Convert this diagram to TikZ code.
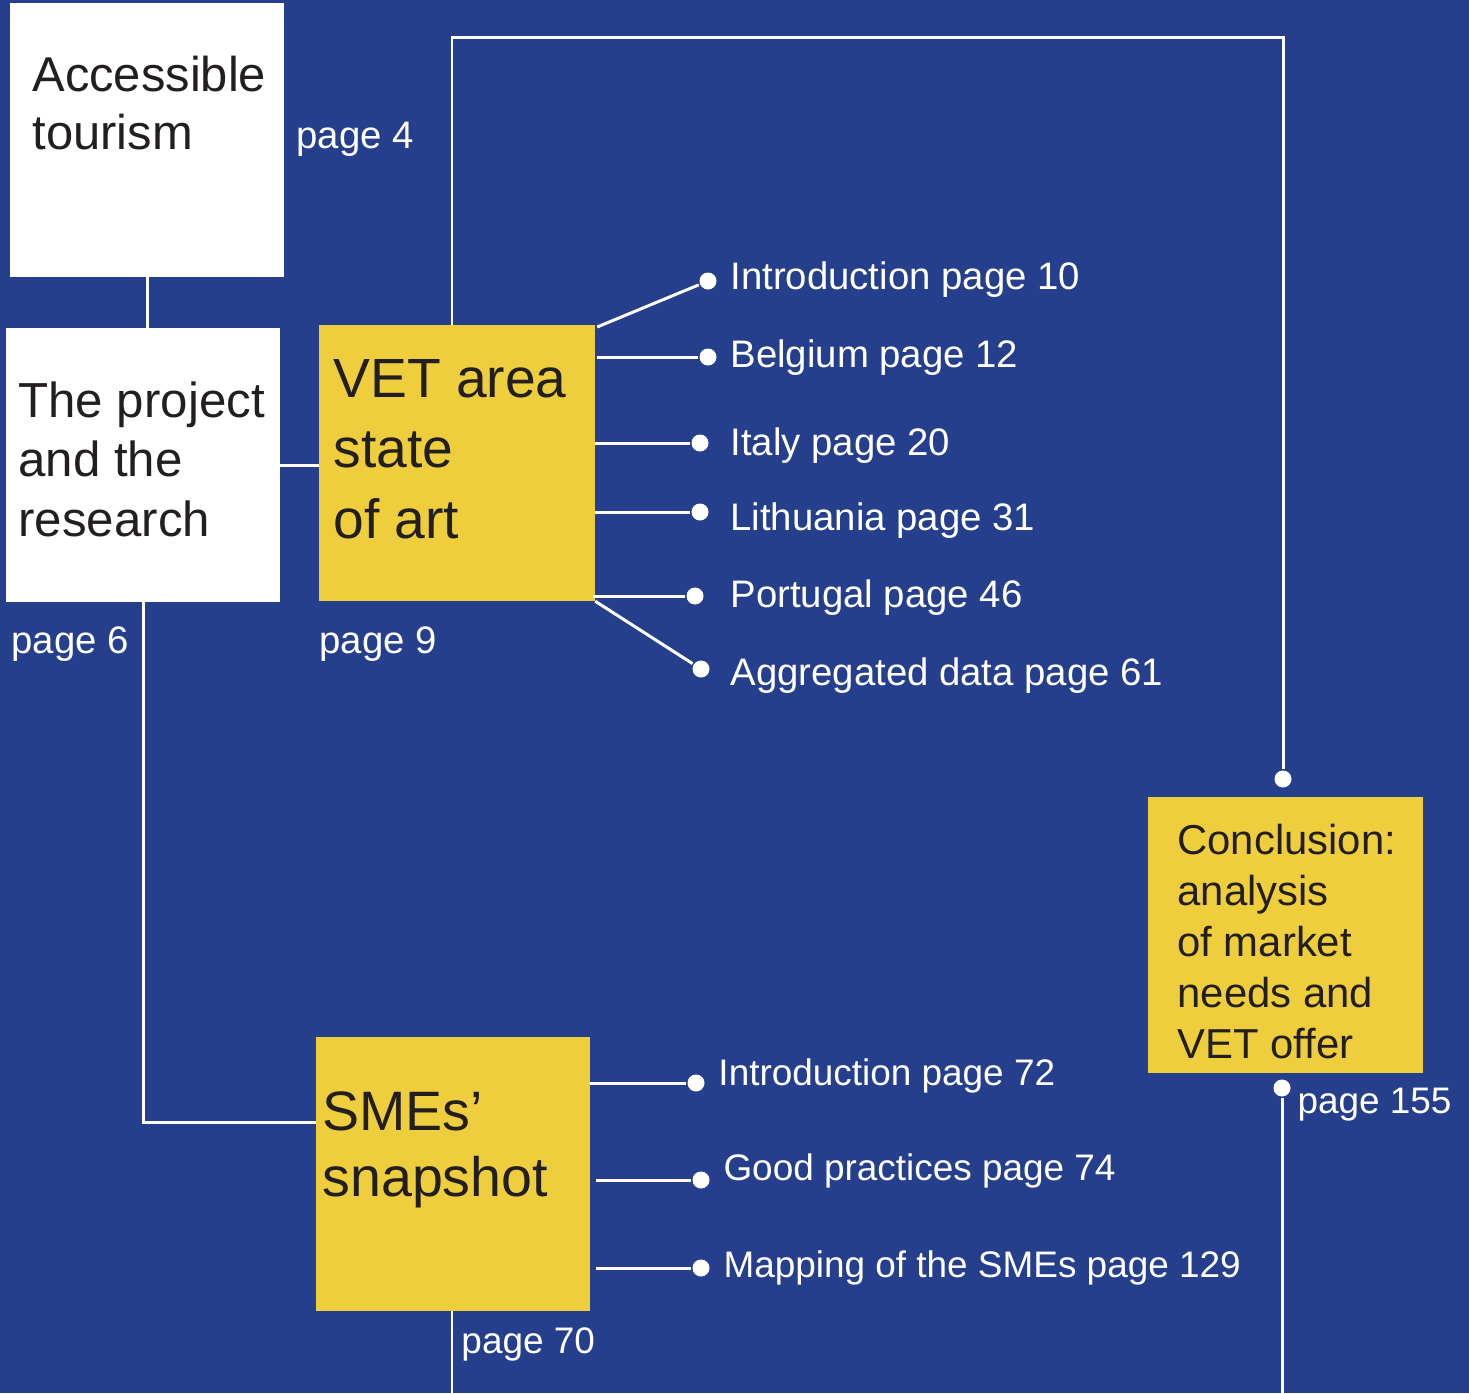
\documentclass[tikz,border=0pt]{standalone}
\usepackage{fontspec}
\setmainfont{Liberation Sans}

\definecolor{bgblue}{RGB}{38,63,141}
\definecolor{boxyellow}{RGB}{239,206,62}
\definecolor{inkdark}{RGB}{35,31,32}

\begin{document}
\begin{tikzpicture}[x=0.01cm,y=-0.01cm,line width=0.85pt]

      \fill[bgblue] (0,0) rectangle (1469,1393);
      \useasboundingbox (0,0) rectangle (1469,1393);

      % boxes
      \begin{scope}[every node/.style={anchor=north west,inner sep=0,outer sep=0,draw=none}]
        \node[fill=white,minimum width=2.74cm,minimum height=2.74cm] (tour) at (10,3) {};
        \node[fill=white,minimum width=2.74cm,minimum height=2.74cm] (proj) at (6,328) {};
        \node[fill=boxyellow,minimum width=2.76cm,minimum height=2.76cm] (vet) at (319,325) {};
        \node[fill=boxyellow,minimum width=2.74cm,minimum height=2.74cm] (sme) at (316,1037) {};
        \node[fill=boxyellow,minimum width=2.75cm,minimum height=2.76cm] (conc) at (1148,797) {};
      \end{scope}

      % box titles
      \begin{scope}[every node/.style={anchor=north west,inner sep=0,align=left,text=inkdark}]
        \node[font=\fontsize{13.9}{16.5}\selectfont] (tour-txt) at (31,55) {Accessible\\tourism};
        \node[font=\fontsize{14}{17}\selectfont] (proj-txt) at (17,380) {The project\\and the\\research};
        \node[font=\fontsize{15.7}{20}\selectfont] (vet-txt) at (332,358) {VET area\\state\\of art};
        \node[font=\fontsize{15.8}{18.8}\selectfont] (sme-txt) at (321,1090) {SMEs’\\snapshot};
        \node[font=\fontsize{11.9}{14.5}\selectfont] (conc-txt) at (1176,823) {Conclusion:\\analysis\\of market\\needs and\\VET offer};
      \end{scope}

      % page numbers and chapter entries
      \begin{scope}[every node/.style={anchor=base west,inner sep=0,text=white,font=\fontsize{10.9}{13}\selectfont}]
        \node (p4) at (295,148) {page 4};
        \node (p6) at (10,653) {page 6};
        \node (p9) at (318,653) {page 9};
        \node (e1) at (729,289) {Introduction page 10};
        \node (e2) at (729,367) {Belgium page 12};
        \node (e3) at (729,455) {Italy page 20};
        \node (e4) at (729,530) {Lithuania page 31};
        \node (e5) at (729,607) {Portugal page 46};
        \node (e6) at (729,685) {Aggregated data page 61};
      \end{scope}
      \begin{scope}[every node/.style={anchor=base west,inner sep=0,text=white,font=\fontsize{10.5}{12.5}\selectfont}]
        \node (p70) at (460,1353) {page 70};
        \node (p155) at (1296,1113) {page 155};
        \node (s1) at (717,1085) {Introduction page 72};
        \node (s2) at (722,1180) {Good practices page 74};
        \node (s3) at (722,1277) {Mapping of the SMEs page 129};
      \end{scope}

      % dots
      \begin{scope}[every node/.style={circle,fill=white,inner sep=0,minimum size=0.17cm}]
        \node (d1) at (708,281) {};
        \node (d2) at (708,357) {};
        \node (d3) at (700,443) {};
        \node (d4) at (700,512) {};
        \node (d5) at (695,596) {};
        \node (d6) at (701,669) {};
        \node (f1) at (696,1083) {};
        \node (f2) at (701,1180) {};
        \node (f3) at (701,1268) {};
        \node (ctop) at (1283,779) {};
        \node (cbot) at (1282,1088) {};
      \end{scope}

      \coordinate (vet-up) at (452,325);
      \coordinate (sme-in) at (316,1122);
      \coordinate (sme-out) at (452,1393);
      \coordinate (conc-out) at (1282,1393);

      \begin{scope}[every edge/.style={draw,white}]
        \path (tour.south) edge (tour.south |- proj.north);
        \path (proj.east) edge (proj.east -| vet.west);
        \path ([xshift=0.02cm,yshift=-0.02cm]vet.north east) edge (d1);
        \path ([xshift=0.02cm]d2 -| vet.east) edge (d2);
        \path (d3 -| vet.east) edge (d3);
        \path (d4 -| vet.east) edge (d4);
        \path ([xshift=-0.02cm]d5 -| vet.east) edge (d5);
        \path (vet.south east) edge (d6);
        \path (f1 -| sme.east) edge (f1);
        \path ([xshift=0.06cm]f2 -| sme.east) edge (f2);
        \path ([xshift=0.06cm]f3 -| sme.east) edge (f3);
        \path (cbot) edge (conc-out);
        \path (sme.south -| sme-out) edge (sme-out);
      \end{scope}

      \draw[white] (vet-up) -- ++(0,-288) -| (ctop);
      \draw[white] (proj.south) |- (sme-in);

    \end{tikzpicture}
\end{document}
